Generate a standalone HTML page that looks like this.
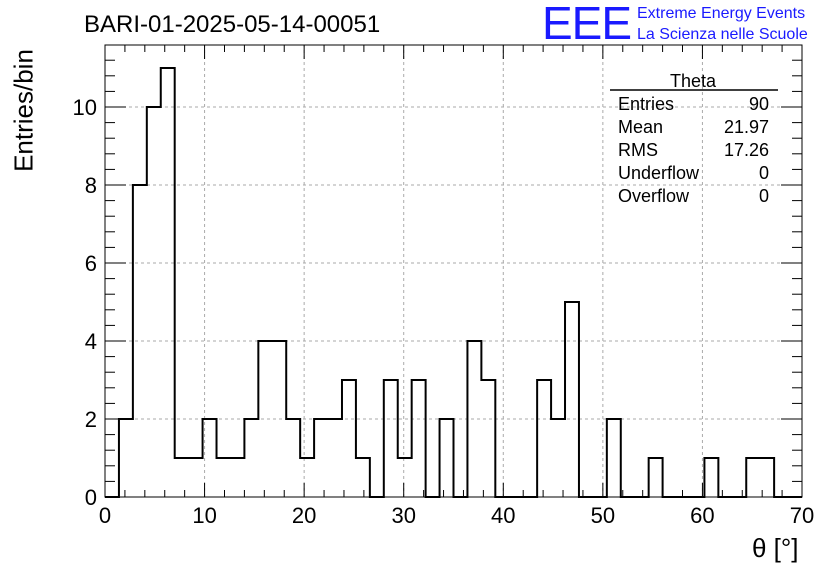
<!DOCTYPE html>
<html><head><meta charset="utf-8"><style>
body{margin:0;background:#fff;}
svg text{font-family:"Liberation Sans",sans-serif;}
</style></head><body>
<svg id="c" width="836" height="572"></svg>
<script>
const counts=[0,2,8,10,11,1,1,2,1,1,2,4,4,2,1,2,2,3,1,0,3,1,3,0,2,0,4,3,0,0,0,3,2,5,0,0,2,0,0,1,0,0,0,1,0,0,1,1,0,0];
const binWidth=1.4;
const xTicks=[0,10,20,30,40,50,60,70];
const yTicks=[0,2,4,6,8,10];
const stats=[["Entries","90"],["Mean","21.97"],["RMS","17.26"],["Underflow","0"],["Overflow","0"]];
const X0=105,X1=802,Y0=497,Y1=45,XMAX=70,YMAX=11.59;
const sx=v=>X0+(X1-X0)*v/XMAX, sy=v=>Y0-(Y0-Y1)*v/YMAX;
const svg=document.getElementById('c');const NS="http://www.w3.org/2000/svg";
function mk(t,a,p){const e=document.createElementNS(NS,t);for(const k in a)e.setAttribute(k,a[k]);(p||svg).appendChild(e);return e;}
// grid
xTicks.slice(1,-1).forEach(v=>{const l=mk('line',{x1:sx(v),x2:sx(v),y1:Y0,y2:Y1,stroke:'#aaa','stroke-dasharray':'3,3'});

});
yTicks.slice(1).forEach(v=>{const l=mk('line',{x1:X0,x2:X1,y1:sy(v),y2:sy(v),stroke:'#aaa','stroke-dasharray':'3,3'});

});
// histogram path
let d=`M${sx(0)},${sy(0)}`;
counts.forEach((c,i)=>{d+=` L${sx(i*binWidth)},${sy(c)} L${sx((i+1)*binWidth)},${sy(c)}`;});
d+=` L${sx(counts.length*binWidth)},${sy(0)}`;
const h=mk('path',{d:d,fill:'none',stroke:'#000','stroke-width':2});


// frame
const f=mk('rect',{x:X0,y:Y1,width:X1-X0,height:Y0-Y1,fill:'none',stroke:'#000','stroke-width':1});


// ticks
for(let v=0;v<=XMAX+1e-9;v+=2){const major=Math.abs(v%10)<1e-9;const L=major?14:7;
mk('line',{x1:sx(v),x2:sx(v),y1:Y0,y2:Y0-L,stroke:'#000'});mk('line',{x1:sx(v),x2:sx(v),y1:Y1,y2:Y1+L,stroke:'#000'});}
for(let v=0;v<=YMAX;v+=0.4){const major=Math.abs(v/2-Math.round(v/2))<1e-6;const L=major?21:10;
mk('line',{x1:X0,x2:X0+L,y1:sy(v),y2:sy(v),stroke:'#000'});mk('line',{x1:X1,x2:X1-L,y1:sy(v),y2:sy(v),stroke:'#000'});}
xTicks.forEach(v=>{const t=mk('text',{x:sx(v),y:523,'text-anchor':'middle','font-size':22});t.textContent=v;

});
yTicks.forEach(v=>{const t=mk('text',{x:97,y:sy(v)+8,'text-anchor':'end','font-size':22});t.textContent=v;

});
// stats box
const sl=mk('line',{x1:610,x2:778,y1:90,y2:90,stroke:'#000','stroke-width':1.5});


const st=mk('text',{x:693,y:87,'text-anchor':'middle','font-size':18});st.textContent='Theta';


stats.forEach((s,i)=>{const y=110+i*23;
const a=mk('text',{x:618,y:y,'font-size':18});a.textContent=s[0];


const b=mk('text',{x:769,y:y,'font-size':18,'text-anchor':'end'});b.textContent=s[1];

});
</script>
<div style="position:absolute;left:0;top:0;width:836px;height:572px;pointer-events:none;font-family:'Liberation Sans',sans-serif;">
<div style="position:absolute;left:84px;top:11px;font-size:24px;">BARI-01-2025-05-14-00051</div>
<div style="position:absolute;left:-46px;top:95px;font-size:26px;transform:rotate(-90deg);width:140px;text-align:center;">Entries/bin</div>
<div style="position:absolute;left:752px;top:533px;font-size:26px;">θ [°]</div>
<div style="position:absolute;left:542px;top:-4px;font-size:46px;color:#1a1aff;letter-spacing:-1px;">EEE</div>
<div style="position:absolute;left:637px;top:3px;font-size:16px;color:#1a1aff;line-height:21px;">Extreme Energy Events<br>La Scienza nelle Scuole</div>
</div>
</body></html>
